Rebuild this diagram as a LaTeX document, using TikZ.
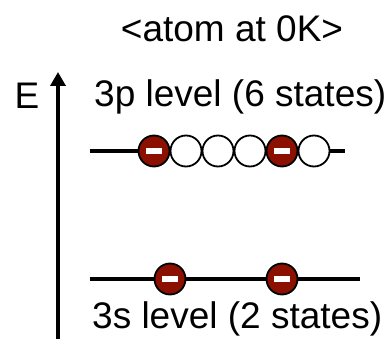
\documentclass[tikz,border=0pt]{standalone}
\usepackage{fontspec}
\setmainfont{Liberation Sans}
\usetikzlibrary{positioning, arrows.meta}

\definecolor{electron red}{RGB}{140,16,0}

\begin{document}
\begin{tikzpicture}[x=1pt, y=-1pt, node distance=0pt,
every node/.style={font=\fontsize{37}{40}\selectfont},
empty state/.style={circle,draw,line width=1.8pt,fill=white,minimum size=31pt,inner sep=0pt},
filled state/.style={empty state,fill=electron red,
  path picture={\fill[white] ([xshift=-8pt,yshift=-3pt]path picture bounding box.center)
    rectangle ([xshift=8pt,yshift=3pt]path picture bounding box.center);}},
level line/.style={line width=4pt}]

\useasboundingbox (0,0) rectangle (385,339);

\node[anchor=base] (title) at (232,42) {<atom at 0K>};

% energy axis
\coordinate (axis bottom) at (58,339);
\coordinate (axis top) at (58,72);
\draw[line width=4pt, -{Triangle[width=15pt,length=14pt]}] (axis bottom) -- (axis top);
\node[anchor=base] (E) at (27,109) {E};

% 3p level with six states
\node[anchor=base west, inner sep=0pt] (p label) at (94,107) {3p level (6 states)};
\coordinate (p left) at (90,151);
\coordinate (p right) at (345,151);
\draw[level line] (p left) -- (p right);
\foreach \i/\x/\kind in {1/154/filled,2/186/empty,3/218/empty,4/250/empty,5/282/filled,6/314/empty}
  \node[\kind\space state] (p\i) at (\x,151) {};

% 3s level with two states
\coordinate (s left) at (90,279);
\coordinate (s right) at (360,279);
\draw[level line] (s left) -- (s right);
\node[filled state] (s1) at (170,279) {};
\node[filled state] (s2) at (282,279) {};
\node[anchor=base west, inner sep=0pt] (s label) at (92,328) {3s level (2 states)};

\end{tikzpicture}
\end{document}
